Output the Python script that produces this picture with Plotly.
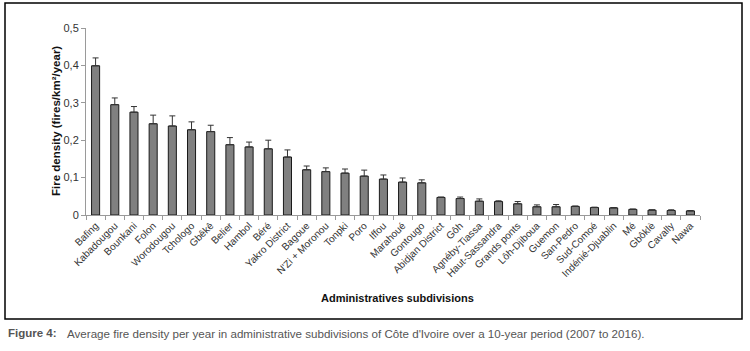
import plotly.graph_objects as go

categories = ["Bafing", "Kabadougou", "Bounkani", "Folon", "Worodougou", "Tchologo", "Gbêkê",
              "Belier", "Hambol", "Béré", "Yakro District", "Bagoue", "N'Zi + Moronou", "Tonpki",
              "Poro", "Iffou", "Marahoué", "Gontougo", "Abidjan District", "Gôh", "Agnéby-Tiassa",
              "Haut-Sassandra", "Grands ponts", "Lôh-Djiboua", "Guemon", "San-Pedro", "Sud-Comoé",
              "Indénié-Djuablin", "Mé", "Gbôklè", "Cavally", "Nawa"]
density = [0.399, 0.295, 0.275, 0.244, 0.238, 0.228, 0.223, 0.188, 0.182, 0.177, 0.155, 0.121,
           0.116, 0.112, 0.104, 0.096, 0.088, 0.086, 0.047, 0.044, 0.037, 0.036, 0.030, 0.022,
           0.022, 0.023, 0.020, 0.019, 0.015, 0.013, 0.012, 0.011]
upper = [0.420, 0.313, 0.290, 0.267, 0.265, 0.249, 0.240, 0.207, 0.195, 0.200, 0.174, 0.131,
         0.126, 0.123, 0.120, 0.107, 0.099, 0.094, 0.048, 0.048, 0.043, 0.038, 0.036, 0.027,
         0.028, 0.024, 0.021, 0.020, 0.016, 0.014, 0.014, 0.012]
y_ticks = [0, 0.1, 0.2, 0.3, 0.4, 0.5]
y_ticklabels = ["0", "0,1", "0,2", "0,3", "0,4", "0,5"]

err_plus = [u - d for u, d in zip(upper, density)]

L, R, T, B = 86, 700, 28, 215
W, H = 750, 351
pw, ph = R - L, B - T

def px(x):
    return (x - L) / pw

def py(y):
    return (B - y) / ph

fig = go.Figure()
fig.add_trace(go.Bar(
    x=categories, y=density,
    marker=dict(color="#808080", line=dict(color="#1a1a1a", width=1)),
    error_y=dict(type="data", symmetric=False, array=err_plus,
                 arrayminus=[0] * len(density), color="#333333", thickness=1, width=3),
))

font_main = "Liberation Sans, Arial, sans-serif"
font_cap = "Liberation Sans Narrow, Arial Narrow, Liberation Sans, sans-serif"
fig.update_layout(
    width=W, height=H,
    margin=dict(l=L, r=W - R, t=T, b=H - B, autoexpand=False),
    paper_bgcolor="white", plot_bgcolor="white",
    bargap=0.58, showlegend=False,
    font=dict(family=font_main, color="#333333"),
    xaxis=dict(type="category", tickangle=-45, tickfont=dict(size=10, color="#333333"),
               showline=True, linecolor="#9a9a9a", linewidth=1,
               ticks="outside", tickson="boundaries", ticklen=4, tickcolor="#9a9a9a",
               showgrid=False, zeroline=False, automargin=False),
    yaxis=dict(range=[0, 0.5], tickvals=y_ticks, ticktext=y_ticklabels,
               tickfont=dict(size=11, color="#333333"),
               showline=True, linecolor="#9a9a9a", linewidth=1,
               ticks="outside", ticklen=4, tickcolor="#9a9a9a",
               showgrid=False, zeroline=False, automargin=False),
    shapes=[dict(type="rect", xref="paper", yref="paper",
                 x0=px(5), x1=px(742), y0=py(319), y1=py(3),
                 line=dict(color="black", width=1.5), layer="below")],
    annotations=[
        dict(text="<b>Fire density (fires/km²/year)</b>", xref="paper", yref="paper",
             x=px(56), y=py(121), textangle=-90, showarrow=False,
             font=dict(size=11.5, color="#111111", family=font_main),
             xanchor="center", yanchor="middle"),
        dict(text="<b>Administratives subdivisions</b>", xref="paper", yref="paper",
             x=px(397), y=py(298), showarrow=False,
             font=dict(size=11, color="#111111", family=font_main),
             xanchor="center", yanchor="middle"),
        dict(text="<b>Figure 4:</b>", xref="paper", yref="paper",
             x=px(6), y=py(333), showarrow=False, xanchor="left", yanchor="middle",
             font=dict(size=11.5, color="#555555", family=font_cap)),
        dict(text="Average fire density per year in administrative subdivisions of Côte d'Ivoire over a 10-year period (2007 to 2016).",
             xref="paper", yref="paper",
             x=px(65), y=py(333), showarrow=False, xanchor="left", yanchor="middle",
             font=dict(size=11.6, color="#555555", family=font_cap)),
    ],
)

fig.write_html("out.html", config={"displayModeBar": False},
               post_script="document.body.style.margin='0';document.body.style.overflow='hidden';")
